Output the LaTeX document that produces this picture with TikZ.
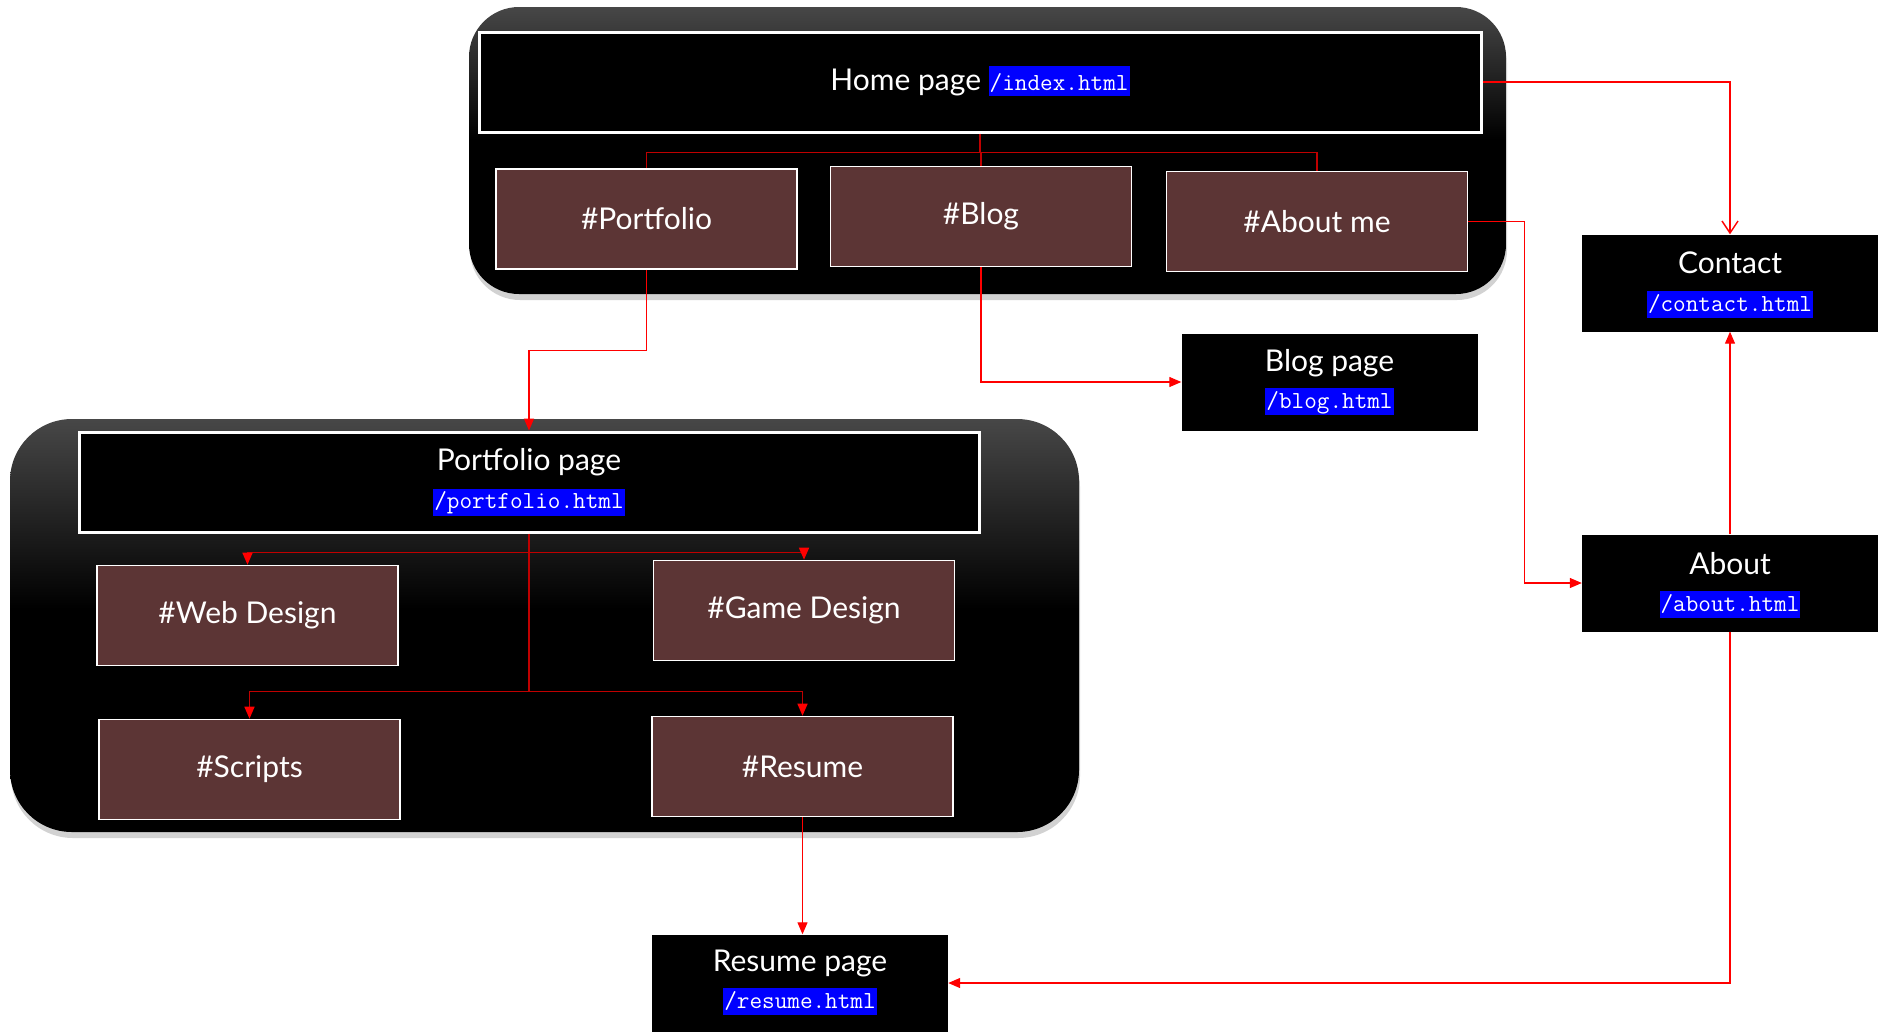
\documentclass[tikz,border=0pt]{standalone}
\usepackage{fontspec}
\setmainfont{Lato}
\usetikzlibrary{arrows.meta,calc,shadows}
\definecolor{maroonbox}{HTML}{5C3535}
\definecolor{inred}{HTML}{C00000}
\definecolor{topgray}{HTML}{474747}
\pgfdeclareverticalshading{contshade}{100bp}{color(0bp)=(black); color(25bp)=(black); color(52bp)=(black); color(75bp)=(topgray); color(100bp)=(topgray)}
\newcommand\ttlfont{\fontsize{30}{36}\selectfont}
\newcommand\urlfnt{\ttfamily\fontsize{24.5}{28}\selectfont}
\newcommand\hlurl[1]{{\setlength{\fboxsep}{0pt}\colorbox{blue}{\urlfnt\rule[-6pt]{0pt}{30pt}\hspace{1pt}#1\hspace{1pt}}}}
\tikzset{
  cont/.style={shading=contshade, drop shadow={shadow xshift=1pt, shadow yshift=-6pt, fill=black!35, opacity=0.5}},
  framebox/.style={draw=white, line width=3pt, fill=black, minimum height=100pt, inner sep=0pt},
  tabbox/.style={draw=white, line width=1.6pt, fill=maroonbox, minimum width=301pt, minimum height=100pt, text=white, font=\ttlfont},
  pagebox/.style={fill=black, minimum width=296pt, minimum height=97pt, inner sep=0pt},
  ttl/.style={text=white, font=\ttlfont, inner sep=0pt, anchor=base},
  urlnode/.style={fill=blue, text=white, font=\urlfnt, inner xsep=1pt, inner ysep=0pt, text height=20pt, text depth=7pt, anchor=base},
  inline/.style={draw=inred, line width=1.5pt},
  ext/.style={draw=red, line width=1.2pt},
  arrowtip/.style={-{Triangle[length=12pt,width=10pt,color=red]}},
  openarrow/.style={-{Straight Barb[length=12pt,width=16pt,color=red,line width=1.4pt]}}
}
\begin{document}
\begin{tikzpicture}[x=1pt,y=-1pt]
\useasboundingbox (0,0) rectangle (1881,1034);
% containers
\shade[cont, rounded corners=50pt] (469,7) rectangle (1506,294);
\shade[cont, rounded corners=62pt] (10,419) rectangle (1079,832);

% home
\node[framebox, minimum width=1002pt] (home) at (980,82) {};
\node[ttl] (hometext) at (980,90) {Home page \hlurl{/index.html}};
\node[tabbox] (tabport) at (646.5,219) {\#Portfolio};
\node[tabbox] (tabblog) at (981,216.5) {\#Blog};
\node[tabbox] (tababout) at (1317,221.5) {\#About me};

% portfolio
\node[framebox, minimum width=900pt] (portpage) at (529,482) {};
\node[ttl] (portpage-t) at ($(portpage.north)+(0,40)$) {Portfolio page};
\node[urlnode] (portpage-u) at ($(portpage.north)+(0,78)$) {/portfolio.html};
\node[tabbox] (webdesign) at (247.5,615.5) {\#Web Design};
\node[tabbox] (gamedesign) at (804,610.5) {\#Game Design};
\node[tabbox] (scripts) at (249.5,769.5) {\#Scripts};
\node[tabbox] (tabresume) at (802.5,766.5) {\#Resume};

% pages
\node[pagebox] (contact) at (1730,283) {};
\node[ttl] (contact-t) at ($(contact.north)+(0,39)$) {Contact};
\node[urlnode] (contact-u) at ($(contact.north)+(0,77)$) {/contact.html};

\node[pagebox] (blogpage) at (1329.5,382) {};
\node[ttl] (blogpage-t) at ($(blogpage.north)+(0,38)$) {Blog page};
\node[urlnode] (blogpage-u) at ($(blogpage.north)+(0,75)$) {/blog.html};

\node[pagebox] (about) at (1730,583) {};
\node[ttl] (about-t) at ($(about.north)+(0,40)$) {About};
\node[urlnode] (about-u) at ($(about.north)+(0,77)$) {/about.html};

\node[pagebox] (resume) at (800,983) {};
\node[ttl] (resume-t) at ($(resume.north)+(0,37)$) {Resume page};
\node[urlnode] (resume-u) at ($(resume.north)+(0,74)$) {/resume.html};

% home internal connectors
\coordinate (hb) at ($(home.south)+(0,19)$);
\draw[inline] (home.south) -- (hb) -| (tabport.north);
\draw[inline] (hb) -| (tababout.north);
\draw[inline] (hb) -- (hb -| tabblog.north) -- (tabblog.north);

% portfolio internal connectors
\coordinate (pb1) at ($(portpage.south)+(0,19)$);
\coordinate (pb2) at ($(portpage.south)+(0,158)$);
\draw[inline] (portpage.south) -- (pb2);
\draw[inline, arrowtip] (pb1) -| (webdesign.north);
\draw[inline, arrowtip] (pb1) -| (gamedesign.north);
\draw[inline, arrowtip] (pb2) -| (scripts.north);
\draw[inline, arrowtip] (pb2) -| (tabresume.north);

% external connectors
\draw[ext, openarrow] (home.east) -| (contact.north);
\draw[ext, arrowtip] (tabport.south) -- ++(0,81) -| (portpage.north);
\draw[ext, arrowtip] (tabblog.south) |- (blogpage.west);
\draw[ext, arrowtip] (tababout.east) -- ++(56,0) |- (about.west);
\draw[ext, arrowtip] (about.north) -- (contact.south);
\draw[ext, arrowtip] (about.south) |- (resume.east);
\draw[ext, arrowtip] (tabresume.south) -- (tabresume.south |- resume.north);
\end{tikzpicture}
\end{document}
